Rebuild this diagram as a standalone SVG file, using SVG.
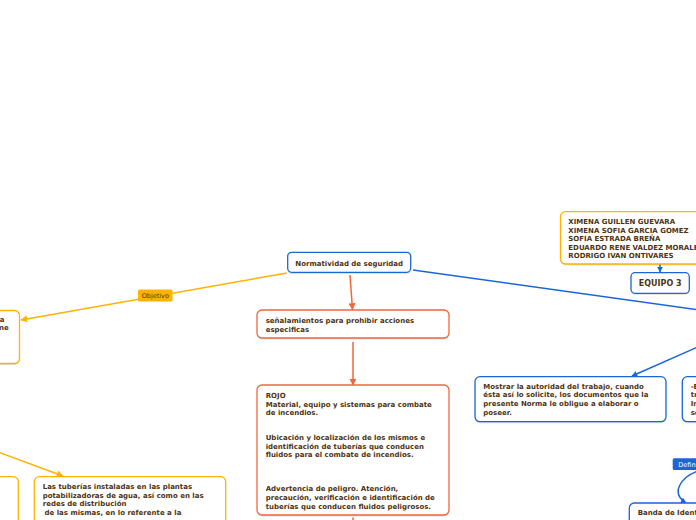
<svg xmlns="http://www.w3.org/2000/svg" width="696" height="520" viewBox="0 0 696 520">
<style>
.t{font-family:"DejaVu Sans",Verdana,sans-serif;font-size:7px;font-weight:bold;fill:#4f3310}
.box{fill:#fff;stroke-width:1.3}
.sh{fill:#000;opacity:0.13}
.blue{stroke:#1a66d6}
.yel{stroke:#ffb300}
.org{stroke:#f0673d}
.c{fill:none;stroke-width:1.5}
.lab{font-family:"DejaVu Sans",Verdana,sans-serif;font-size:6.5px}
</style>
<defs>
<marker id="aB" viewBox="0 0 10 10" refX="9" refY="5" markerWidth="6" markerHeight="6" orient="auto" markerUnits="userSpaceOnUse"><path d="M0,0 L10,5 L0,10 z" fill="#1a66d6"/></marker>
<marker id="aY" viewBox="0 0 10 10" refX="9" refY="5" markerWidth="7" markerHeight="7" orient="auto" markerUnits="userSpaceOnUse"><path d="M0,0 L10,5 L0,10 z" fill="#ffb300"/></marker>
<marker id="aO" viewBox="0 0 10 10" refX="9" refY="5" markerWidth="7" markerHeight="7" orient="auto" markerUnits="userSpaceOnUse"><path d="M0,0 L10,5 L0,10 z" fill="#f0673d"/></marker>
</defs>
<rect width="696" height="520" fill="#fff"/>
<g id="connectors">
<path class="c yel" d="M287,273 L21,320" marker-end="url(#aY)"/>
<path class="c org" d="M350,275 L352.5,309.5" marker-end="url(#aO)"/>
<path class="c blue" d="M413,270 L700,310"/>
<path class="c org" d="M353,342 L353,385" marker-end="url(#aO)"/>
<path class="c org" d="M353,517.5 L353,522"/>
<path class="c blue" d="M700,346 L632,376" marker-end="url(#aB)"/>
<path class="c yel" d="M-2,452 L63,476" marker-end="url(#aY)"/>
<path class="c blue" d="M660,264 L660,272" marker-end="url(#aB)"/>
<path class="c blue" d="M698,471 C681,477 670,493 686,503" marker-end="url(#aB)"/>
<g id="label-objetivo">
<rect x="138" y="289.5" width="34.5" height="12" rx="1.5" fill="#ffb300"/>
<text class="lab" x="141.7" y="297.8" fill="#4f3310">Objetivo</text>
</g>
<g id="label-defin">
<rect x="672.7" y="458.3" width="40" height="11.7" rx="1.5" fill="#1a66d6"/>
<text class="lab" x="678.3" y="466.5" fill="#fff">Definición</text>
</g>
</g>
<g id="root">
<rect class="sh" x="287.7" y="254" width="123" height="20" rx="4"/>
<rect class="box blue" x="287.7" y="252.3" width="123" height="20" rx="4"/>
<text class="t" x="349.2" y="265.8" text-anchor="middle">Normatividad de seguridad</text>
</g>
<g id="senalamientos">
<rect class="sh" x="257" y="311.5" width="192" height="28" rx="5"/>
<rect class="box org" x="257" y="310" width="192" height="28" rx="5"/>
<text class="t" x="265.7" y="323.3">señalamientos para prohibir acciones</text>
<text class="t" x="265.7" y="331.8">especificas</text>
</g>
<g id="rojo">
<rect class="sh" x="257" y="386.5" width="192" height="130" rx="5"/>
<rect class="box org" x="257" y="385" width="192" height="130" rx="5"/>
<text class="t" x="265.7" y="398">ROJO</text>
<text class="t" x="265.7" y="406.7">Material, equipo y sistemas para combate</text>
<text class="t" x="265.7" y="415.4">de incendios.</text>
<text class="t" x="265.7" y="440">Ubicación y localización de los mismos e</text>
<text class="t" x="265.7" y="448.7">identificación de tuberías que conducen</text>
<text class="t" x="265.7" y="457.4">fluidos para el combate de incendios.</text>
<text class="t" x="265.7" y="491.4">Advertencia de peligro. Atención,</text>
<text class="t" x="265.7" y="500.2">precaución, verificación e identificación de</text>
<text class="t" x="265.7" y="508.9">tuberías que conducen fluidos peligrosos.</text>
</g>
<g id="integrantes">
<rect class="sh" x="560.5" y="213.2" width="160" height="52.3" rx="5"/>
<rect class="box yel" x="560.5" y="211.7" width="160" height="52.3" rx="5"/>
<text class="t" x="568.3" y="224">XIMENA GUILLEN GUEVARA</text>
<text class="t" x="568.3" y="232.5">XIMENA SOFIA GARCIA GOMEZ</text>
<text class="t" x="568.3" y="241">SOFIA ESTRADA BREÑA</text>
<text class="t" x="568.3" y="249.5">EDUARDO RENE VALDEZ MORALES</text>
<text class="t" x="568.3" y="258">RODRIGO IVAN ONTIVARES</text>
</g>
<g id="equipo">
<rect class="sh" x="631" y="274.2" width="58.3" height="20.6" rx="4"/>
<rect class="box blue" x="631" y="272.7" width="58.3" height="20.6" rx="4"/>
<text class="t" x="660.2" y="285.8" text-anchor="middle" style="font-size:8px">EQUIPO 3</text>
</g>
<g id="mostrar">
<rect class="sh" x="475" y="378.2" width="191" height="45" rx="5"/>
<rect class="box blue" x="475" y="376.7" width="191" height="45" rx="5"/>
<text class="t" x="483.3" y="388.6">Mostrar la autoridad del trabajo, cuando</text>
<text class="t" x="483.3" y="397.4">ésta así lo solicite, los documentos que la</text>
<text class="t" x="483.3" y="406.2">presente Norma le obligue a elaborar o</text>
<text class="t" x="483.3" y="415">poseer.</text>
</g>
<g id="right-node">
<rect class="sh" x="682.3" y="378.2" width="80" height="45" rx="5"/>
<rect class="box blue" x="682.3" y="376.7" width="80" height="45" rx="5"/>
<text class="t" x="690.7" y="388.6">-E</text>
<text class="t" x="690.7" y="397.4">tr</text>
<text class="t" x="690.7" y="406.2">In</text>
<text class="t" x="690.7" y="415">se</text>
</g>
<g id="left-node">
<rect class="sh" x="-30" y="312" width="49.5" height="53" rx="5"/>
<rect class="box yel" x="-30" y="310.5" width="49.5" height="53" rx="5"/>
<text class="t" x="4.5" y="321.6" text-anchor="end">a</text>
<text class="t" x="8.8" y="330.3" text-anchor="end">ne</text>
</g>
<g id="left-bottom-node">
<rect class="box yel" x="-30" y="476.7" width="48.3" height="70" rx="5"/>
</g>
<g id="tuberias">
<rect class="box yel" x="34.3" y="476.7" width="191.4" height="70" rx="5"/>
<text class="t" x="42.7" y="489.3">Las tuberías instaladas en las plantas</text>
<text class="t" x="42.7" y="497.8">potabilizadoras de agua, así como en las</text>
<text class="t" x="42.7" y="506.3">redes de distribución</text>
<text class="t" x="44.5" y="514.8">de las mismas, en lo referente a la</text>
</g>
<g id="banda">
<rect class="box blue" x="629.3" y="503" width="90" height="40" rx="5"/>
<text class="t" x="637.7" y="514.8">Banda de Identificación</text>
</g>
</svg>
